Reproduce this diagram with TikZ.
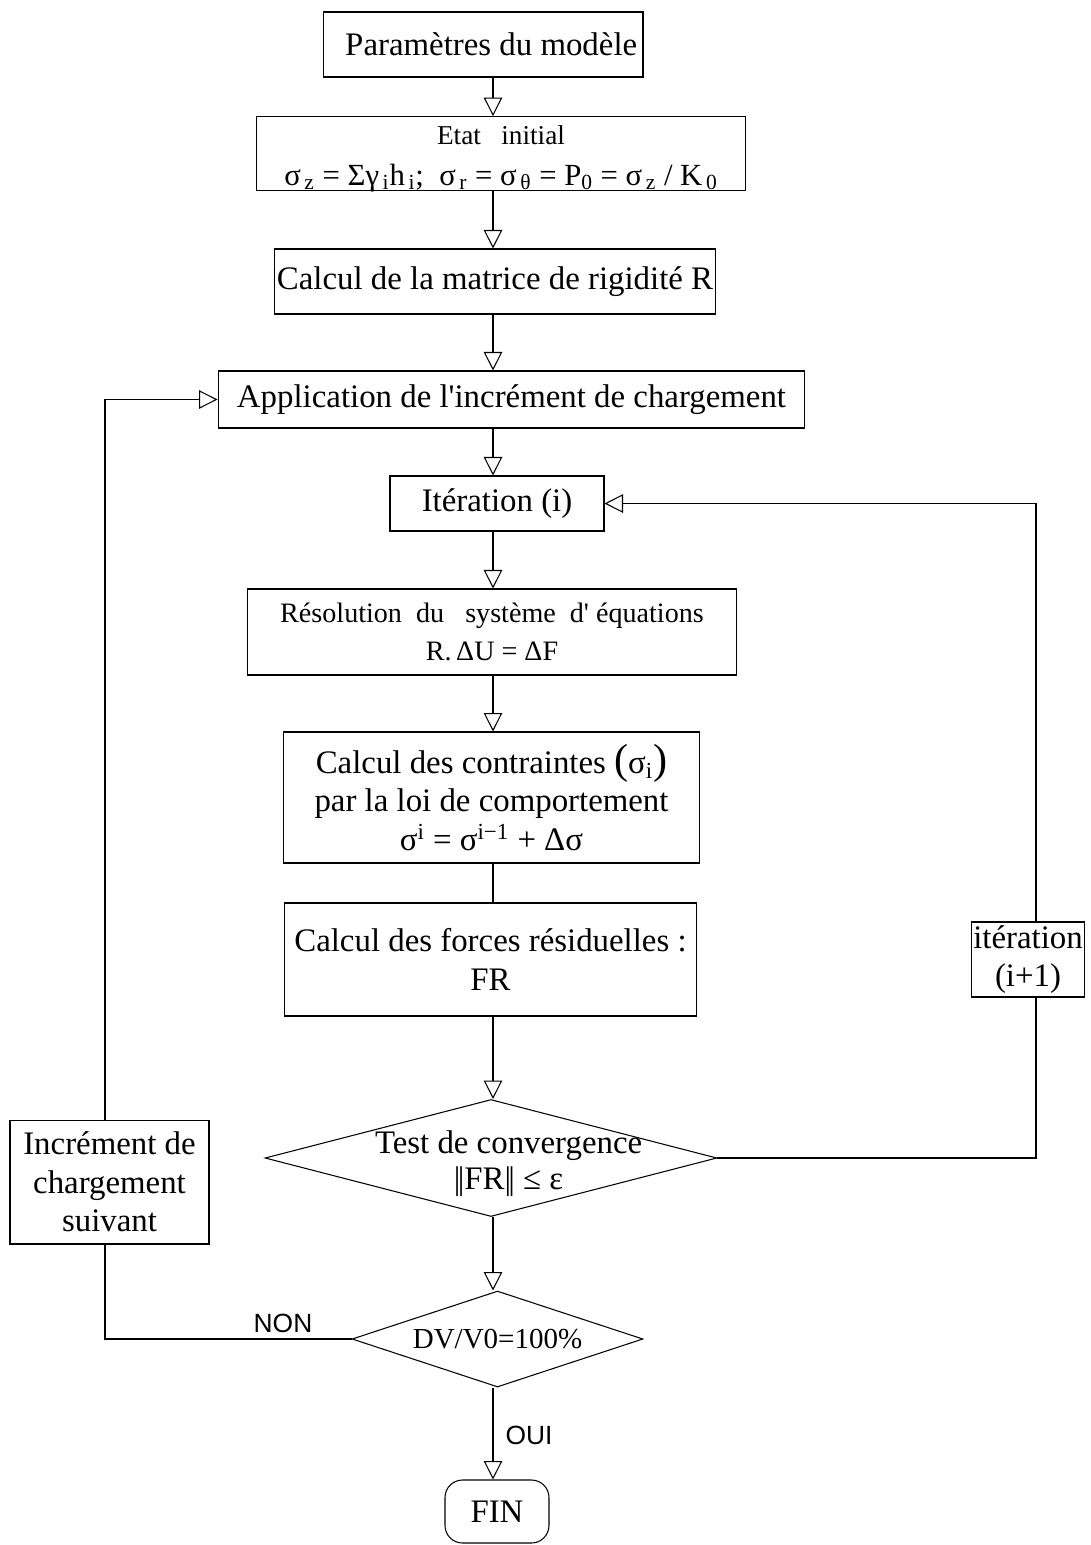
\documentclass[tikz,border=0pt]{standalone}
\usepackage{fontspec}
\setmainfont{Liberation Serif}
\newfontfamily\labelfont{Liberation Sans}
\usetikzlibrary{arrows.meta,shapes.geometric}

\begin{document}
\begin{tikzpicture}[x=0.02cm, y=-0.02cm,
    etape/.style={rectangle, draw, line width=0.6pt, inner sep=1pt, align=center, font=\fontsize{18.7}{22}\selectfont},
    petit/.style={font=\fontsize{15.5}{18}\selectfont},
    test/.style={diamond, draw, line width=0.6pt, inner sep=-40pt, align=center, font=\fontsize{18.7}{20.5}\selectfont},
    terminal/.style={etape, rounded corners=0.35cm},
    lien/.style={draw, line width=0.6pt},
    fleche/.style={lien, -{Triangle[open, length=0.37cm, width=0.37cm]}},
    reponse/.style={font=\labelfont\fontsize{15}{18}\selectfont}
  ]
    \useasboundingbox (0,0) rectangle (1090,1545);

    % Axes des liaisons
    \coordinate (axe) at (493,0);
    \coordinate (droite) at (1036,0);
    \coordinate (gauche) at (105,0);

    % Etapes (colonne centrale)
    \node[etape, minimum width=6.4cm, minimum height=1.3cm] (param) at (483,44.5) {\ \ Param\`etres du mod\`ele};
    \node[etape, petit, text height=38pt, text depth=2pt, minimum width=9.8cm, minimum height=1.46cm] (etat) at (501,153.5)
      {Etat\ \ \ initial\\[5pt] {\fontsize{17.5}{20}\selectfont σ\textsubscript{\,z} = Σγ\textsubscript{\,i}h\textsubscript{\,i};\ \ σ\textsubscript{\,r} = σ\textsubscript{\,θ} = P\textsubscript{0} = σ\textsubscript{\,z} / K\textsubscript{\,0}}};
    \node[etape, minimum width=8.84cm, minimum height=1.3cm] (rigid) at (495,281.5) {Calcul de la matrice de rigidit\'e R};
    \node[etape, minimum width=11.74cm, minimum height=1.14cm] (appli) at (511.5,399.5) {Application de l\textquotesingle incr\'ement de chargement};
    \node[etape, minimum width=4.28cm, minimum height=1.1cm] (iter) at (497,503.5) {It\'eration (i)};
    \node[etape, font=\fontsize{16}{18}\selectfont, minimum width=9.8cm, minimum height=1.72cm] (resol) at (492,632)
      {R\'esolution\ \ du\ \ \ syst\`eme\ \ d\textquotesingle\ \'equations\\[4pt] R.\,ΔU = ΔF};
    \node[etape, minimum width=8.34cm, minimum height=2.62cm] (contr) at (491.5,797.5)
      {Calcul des contraintes {\fontsize{24}{24}\selectfont(}σ\textsubscript{i}{\fontsize{24}{24}\selectfont)}\\ par la loi de comportement\\ σ\textsuperscript{i} = σ\textsuperscript{i−1} + Δσ};
    \node[etape, minimum width=8.26cm, minimum height=2.26cm] (forces) at (490.5,959.5)
      {Calcul des forces r\'esiduelles :\\ FR};

    % Tests
    \node[test, minimum width=9.04cm, minimum height=2.34cm] (conv) at (491,1158)
      {\hspace*{20pt}\rule{0pt}{19pt}Test de convergence\\ \hspace*{20pt}|\kern-1.5pt|FR|\kern-1.5pt| ≤ ε};
    \node[test, font=\fontsize{16.5}{20}\selectfont, minimum width=5.82cm, minimum height=1.92cm] (dv) at (497.5,1339) {DV/V0=100\%};
    \node[terminal, minimum width=2.08cm, minimum height=1.26cm] (fin) at (497,1511.5) {FIN};

    % Boucles
    \node[etape, minimum width=2.24cm, minimum height=1.5cm] (iterb) at (1028,959.5) {it\'eration\\ (i+1)};
    \node[etape, minimum width=3.98cm, minimum height=2.48cm] (incr) at (109.5,1182) {Incr\'ement de\\ chargement\\ suivant};

    % Reponses
    \node[reponse] (non) at (283,1323) {NON};
    \node[reponse] (oui) at (529,1435) {OUI};

    % Liaisons
    \draw[fleche] (param.south -| axe) -- (etat.north -| axe);
    \draw[fleche] (etat.south -| axe) -- (rigid.north -| axe);
    \draw[fleche] (rigid.south -| axe) -- (appli.north -| axe);
    \draw[fleche] (appli.south -| axe) -- (iter.north -| axe);
    \draw[fleche] (iter.south -| axe) -- (resol.north -| axe);
    \draw[fleche] (resol.south -| axe) -- (contr.north -| axe);
    \draw[lien] (contr.south -| axe) -- (forces.north -| axe);
    \draw[fleche] (forces.south -| axe) -- (conv.north -| axe);
    \draw[fleche] (conv.south -| axe) -- (dv.north -| axe);
    \draw[fleche] (dv.south -| axe) -- (fin.north -| axe);

    \draw[lien] (conv.east) -| (iterb.south -| droite);
    \draw[fleche] (iterb.north -| droite) |- (iter.east);
    \draw[lien] (dv.west) -| (incr.south -| gauche);
    \draw[fleche] (incr.north -| gauche) |- (appli.west);
  \end{tikzpicture}
\end{document}
